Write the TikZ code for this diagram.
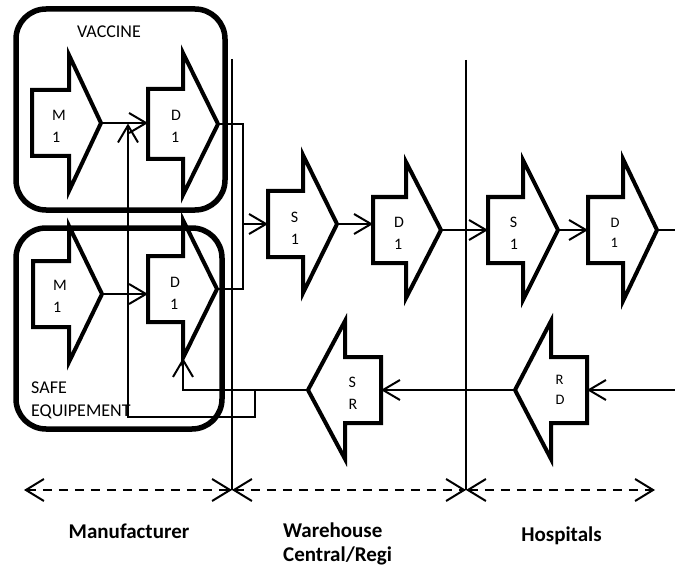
\documentclass[tikz,border=0pt]{standalone}
\usepackage{fontspec}
\setmainfont{Carlito}
\usetikzlibrary{arrows.meta}

% Block arrow: #1 name, #2 back x, #3 neck x, #4 tip x, #5 centre y,
% #6 body half-height, #7 head half-height (works in either direction)
\newcommand\blockarrow[7]{%
  \draw[shapeline] (#2,#5-#6) -- (#3,#5-#6) -- (#3,#5-#7) -- (#4,#5)
    -- (#3,#5+#7) -- (#3,#5+#6) -- (#2,#5+#6) -- cycle;
  \coordinate (#1-tail) at (#2,#5);
  \coordinate (#1-tip)  at (#4,#5);
  \coordinate (#1-top)  at (#3,#5-#7);
  \coordinate (#1-bot)  at (#3,#5+#7);
}

\begin{document}
\begin{tikzpicture}[x=1pt,y=-1pt,
  shapeline/.style={line width=4pt, line join=miter},
  group/.style={line width=5.5pt, rounded corners=30pt},
  wire/.style={line width=2pt},
  flow/.style={wire, -{Straight Barb[length=17pt,width=20pt]}},
  divider/.style={line width=2pt},
  span/.style={line width=2pt, dash pattern=on 9pt off 7pt,
    {Straight Barb[length=18pt,width=22pt]}-{Straight Barb[length=18pt,width=22pt]}},
  lbl/.style={align=left, inner sep=0pt, font=\fontsize{16}{22}\selectfont},
  lblsmall/.style={align=left, inner sep=0pt, font=\fontsize{14.5}{20}\selectfont},
  grouplbl/.style={align=left, inner sep=0pt, font=\fontsize{18}{23}\selectfont},
  zone/.style={align=left, inner sep=0pt, font=\bfseries\fontsize{21}{24}\selectfont},
]
\useasboundingbox (0,0) rectangle (675,567);

% block arrows
\blockarrow{m1a}{32}{69}{101}{123}{33}{68}
\blockarrow{d1a}{148}{183}{218}{124}{35}{71}
\blockarrow{m1b}{33}{69}{102}{294}{33}{68}
\blockarrow{d1b}{148}{183}{217}{289}{33}{69}
\blockarrow{s1w}{268}{303}{337}{224}{33}{69}
\blockarrow{d1w}{373}{406}{441}{230}{33}{68}
\blockarrow{s1h}{488}{523}{558}{230}{33}{70}
\blockarrow{d1h}{588}{623}{657}{230}{33}{71}
\blockarrow{sr}{381}{345}{308}{390}{33}{69}
\blockarrow{rd}{587}{551}{515}{390}{33}{69}

% labels inside the block arrows
\node[lbl] (m1a) at (59,126) {M\\1};
\node[lbl] (d1a) at (176,126) {D\\1};
\node[lbl] (m1b) at (60,296) {M\\1};
\node[lbl] (d1b) at (175,293) {D\\1};
\node[lbl] (s1w) at (295,228) {S\\1};
\node[lbl] (d1w) at (399,233) {D\\1};
\node[lbl] (s1h) at (514,233) {S\\1};
\node[lblsmall] (d1h) at (615,233) {D\\1};
\node[lbl] (sr) at (353,393) {S\\R};
\node[lblsmall] (rd) at (560,390) {R\\D};

% grouping boxes
\draw[group] (16,9) rectangle (225,210);
\draw[group] (16,228) rectangle (222,429);
\node[grouplbl] (vaccine) at (109,32) {VACCINE};
\node[grouplbl, anchor=west] (safe) at (31,400) {SAFE\\EQUIPEMENT};

% forward flow
\draw[flow] (m1a-tip) -- (m1a-tip -| d1a-tail);
\draw[flow] (m1b-tip) -- (m1b-tip -| d1b-tail);
\coordinate (merge) at (243,224);
\draw[wire] (d1a-tip) -| (merge) |- (d1b-tip);
\draw[flow] (merge) -- (s1w-tail);
\draw[flow] (s1w-tip) -- (s1w-tip -| d1w-tail);
\draw[flow] (d1w-tip) -- (s1h-tail);
\draw[flow] (s1h-tip) -- (d1h-tail);
\coordinate (outR) at (675,230);
\draw[wire] (d1h-tip) -- (outR);

% return flow
\coordinate (inR) at (675,390);
\draw[flow] (inR) -- (rd-tail);
\draw[flow] (rd-tip) -- (sr-tail);
\draw[flow] (sr-tip) -| (d1b-bot);
\coordinate (split) at (255,390);
\coordinate (loopcorner) at (128,417);
\coordinate (vjoin) at (128,123.5);
\draw[flow] (split) |- (loopcorner) -- (vjoin);

% stage dividers
\coordinate (sepAtop) at (232,59);
\coordinate (sepAbot) at (232,490);
\coordinate (sepBtop) at (466,60);
\coordinate (sepBbot) at (466,490);
\draw[divider] (sepAtop) -- (sepAbot);
\draw[divider] (sepBtop) -- (sepBbot);

% stage spans
\coordinate (spanL) at (24,490);
\coordinate (spanR) at (655,490);
\draw[span] (spanL) -- (sepAbot);
\draw[span] (sepAbot) -- (sepBbot);
\draw[span] (sepBbot) -- (spanR);

\node[zone, anchor=base] (manu) at (129,538) {Manufacturer};
\node[zone, anchor=north west] (ware) at (283,523) {Warehouse\\Central/Regi};
\node[zone, anchor=base] (hosp) at (561.5,541) {Hospitals};
\end{tikzpicture}
\end{document}
